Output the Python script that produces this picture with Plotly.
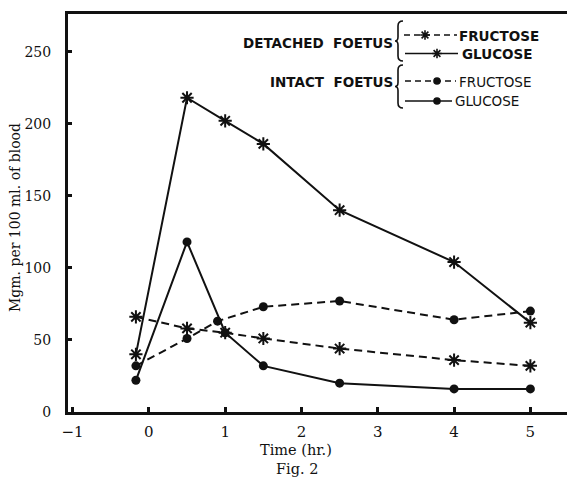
import plotly.graph_objects as go

# ---- data (time in hours, mg per 100 ml of blood) ----
time_x = [-0.17, 0.5, 1, 1.5, 2.5, 4, 5]
detached_fructose = [66, 58, 55, 51, 44, 36, 32]
detached_glucose = [40, 218, 202, 186, 140, 104, 62]
intact_time = [-0.17, 0.5, 0.9, 1.5, 2.5, 4, 5]
intact_fructose = [32, 51, 63, 73, 77, 64, 70]
intact_glucose_time = [-0.17, 0.5, 1, 1.5, 2.5, 4, 5]
intact_glucose = [22, 118, 55, 32, 20, 16, 16]

x_ticks = [-1, 0, 1, 2, 3, 4, 5]
x_tick_text = ["\u22121", "0", "1", "2", "3", "4", "5"]
y_ticks = [0, 50, 100, 150, 200, 250]

INK = "#111111"
SERIF = "DejaVu Serif"
SANS = "DejaVu Sans"

W, H = 567, 479
L, R, T, B = 68, 567, 14, 412

def pxx(x):
    return (x - L) / (R - L)

def pxy(y):
    return (B - y) / (B - T)

fig = go.Figure()

star = dict(symbol="asterisk-open", size=11, line=dict(width=2, color=INK), color=INK)
dot = dict(symbol="circle", size=9, color=INK)

fig.add_trace(go.Scatter(x=time_x, y=detached_fructose, mode="lines+markers",
                         line=dict(color=INK, width=2, dash="8px,5px"), marker=star))
fig.add_trace(go.Scatter(x=time_x, y=detached_glucose, mode="lines+markers",
                         line=dict(color=INK, width=2), marker=star))
fig.add_trace(go.Scatter(x=intact_time, y=intact_fructose, mode="lines+markers",
                         line=dict(color=INK, width=2, dash="8px,5px"), marker=dot))
fig.add_trace(go.Scatter(x=intact_glucose_time, y=intact_glucose, mode="lines+markers",
                         line=dict(color=INK, width=2), marker=dot))

# ---- hand-drawn style legend on an overlay axis in pixel units ----
leg_rows = [
    # (y, dash, marker, marker_x, x0, x1)
    (35, "6px,4px", "asterisk-open", 425, 404, 457),
    (53.5, "solid", "asterisk-open", 437, 405, 458),
    (81, "6px,4px", "circle", 437, 405, 456),
    (101, "solid", "circle", 437, 405, 452),
]
for (yy, dsh, sym, mx, x0, x1) in leg_rows:
    fig.add_trace(go.Scatter(x=[x0, x1], y=[yy, yy], mode="lines", xaxis="x2", yaxis="y2",
                             line=dict(color=INK, width=1.6, dash=dsh), hoverinfo="skip"))
    mk = dict(symbol=sym, size=8 if sym != "circle" else 6, color=INK,
              line=dict(width=1.6, color=INK))
    fig.add_trace(go.Scatter(x=[mx], y=[yy], mode="markers", xaxis="x2", yaxis="y2",
                             marker=mk, hoverinfo="skip"))

ann = []
def txt(x, y, s, anchor, size=13.5, bold=True, family=SANS, angle=0):
    ann.append(dict(x=pxx(x), y=pxy(y), xref="paper", yref="paper",
                    text=(f"<b>{s}</b>" if bold else s), textangle=angle,
                    showarrow=False, xanchor=anchor, yanchor="middle",
                    font=dict(family=family, size=size, color=INK)))

txt(395, 43, "DETACHED  FOETUS", "right")
txt(395, 82, "INTACT  FOETUS", "right")
txt(457, 36, "FRUCTOSE", "left")
txt(460, 54, "GLUCOSE", "left")
txt(457, 82, "FRUCTOSE", "left", bold=False)
txt(453, 101, "GLUCOSE", "left", bold=False)

# axis titles / caption
txt(15, 218, "Mgm. per 100 ml. of blood", "center", size=14, bold=False, family=SERIF, angle=-90)
txt(296, 450, "Time (hr.)", "center", size=14.5, bold=False, family=SERIF)
txt(297, 469, "Fig. 2", "center", size=14.5, bold=False, family=SERIF)

shapes = []
def brace(x, y0, y1):
    ym = (y0 + y1) / 2
    w = 5
    path = (f"M {x+w},{y0} Q {x},{y0} {x},{y0+5} L {x},{ym-4} Q {x},{ym} {x-3},{ym} "
            f"Q {x},{ym} {x},{ym+4} L {x},{y1-5} Q {x},{y1} {x+w},{y1}")
    shapes.append(dict(type="path", path=path, xref="x2", yref="y2",
                       line=dict(color=INK, width=1.6)))
brace(398, 21, 61)
brace(398, 65, 108)

fig.update_layout(
    width=W, height=H,
    margin=dict(l=L, r=W - R, t=T, b=H - B, pad=0),
    paper_bgcolor="white", plot_bgcolor="white",
    showlegend=False,
    annotations=ann, shapes=shapes,
    xaxis=dict(range=[-1.06, 5.48], tickvals=x_ticks, ticktext=x_tick_text,
               showgrid=False, zeroline=False, showline=True, linewidth=3, linecolor=INK,
               mirror=True, ticks="inside", ticklen=5, tickwidth=3, tickcolor=INK,
               ticklabelstandoff=4,
               tickfont=dict(family=SERIF, size=15, color=INK)),
    yaxis=dict(range=[0, 276.1], tickvals=y_ticks,
               showgrid=False, zeroline=False, showline=True, linewidth=3, linecolor=INK,
               ticks="inside", ticklen=4, tickwidth=3, tickcolor=INK,
               ticklabelstandoff=11,
               tickfont=dict(family=SERIF, size=14, color=INK)),
    xaxis2=dict(range=[L, R], overlaying="x", visible=False, fixedrange=True),
    yaxis2=dict(range=[B, T], overlaying="y", visible=False, fixedrange=True),
)

fig.write_html("out.html", config={"displayModeBar": False},
               post_script="document.body.style.margin='0';document.body.style.overflow='hidden';")
